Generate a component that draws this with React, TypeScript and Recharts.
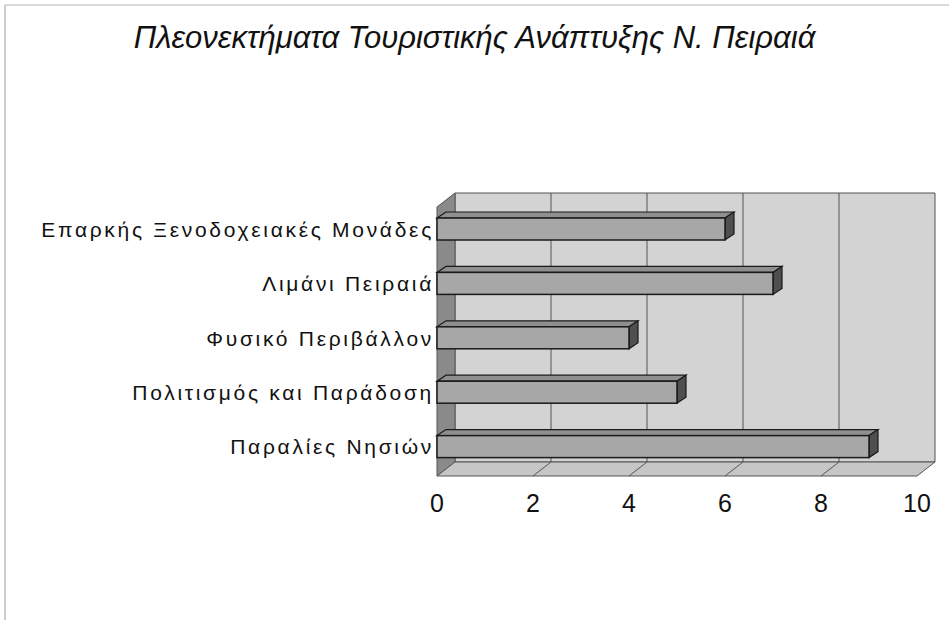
import React from 'react';
import { BarChart, Bar, XAxis, YAxis, ReferenceArea, ReferenceLine } from 'recharts';

const categories = [
  'Επαρκής Ξενοδοχειακές Μονάδες',
  'Λιμάνι Πειραιά',
  'Φυσικό Περιβάλλον',
  'Πολιτισμός και Παράδοση',
  'Παραλίες Νησιών',
];
const scores = [6, 7, 4, 5, 9];
const xTicks = [0, 2, 4, 6, 8, 10];
const innerGrid = [2, 4, 6, 8];

const data = categories.map((name, i) => ({ name, value: scores[i] }));

const FONT = '"Liberation Sans", Arial, sans-serif';

// wall depth (3D look of the plot box)
const WDX = 18;
const WDY = 14;
// bar depth
const BDX = 9;
const BDY = 6;

const Walls = (props: any) => {
  const { x, y, width, height } = props;
  const front = y + height + 2;
  const back = front - WDY;
  const top = y - 9;
  return (
    <g>
      <polygon
        points={`${x + WDX},${top} ${x + width + WDX},${top} ${x + width + WDX},${back} ${x + WDX},${back}`}
        fill="#d3d3d3"
        stroke="#555"
        strokeWidth={1}
      />
      <polygon
        points={`${x},${top + WDY} ${x + WDX},${top} ${x + WDX},${back} ${x},${front}`}
        fill="#8a8a8a"
        stroke="#555"
        strokeWidth={1}
      />
      <polygon
        points={`${x},${front} ${x + WDX},${back} ${x + width + WDX},${back} ${x + width},${front}`}
        fill="#c6c6c6"
        stroke="#555"
        strokeWidth={1}
      />
    </g>
  );
};

const GridLine3D = (props: any) => {
  const { x1, y1, y2 } = props;
  const yTop = Math.min(y1, y2);
  const yBot = Math.max(y1, y2);
  const front = yBot + 2;
  const back = front - WDY;
  return (
    <g>
      <line x1={x1 + WDX} y1={yTop - 9} x2={x1 + WDX} y2={back} stroke="#555" strokeWidth={1} />
      <line x1={x1} y1={front} x2={x1 + WDX} y2={back} stroke="#555" strokeWidth={1} />
    </g>
  );
};

const Bar3D = (props: any) => {
  const { x, y, width, height } = props;
  if (width <= 0) return null;
  return (
    <g>
      <polygon
        points={`${x},${y} ${x + BDX},${y - BDY} ${x + width + BDX},${y - BDY} ${x + width},${y}`}
        fill="#8f8f8f"
        stroke="#1a1a1a"
        strokeWidth={1.2}
      />
      <polygon
        points={`${x + width},${y} ${x + width + BDX},${y - BDY} ${x + width + BDX},${y + height - BDY} ${x + width},${y + height}`}
        fill="#4f4f4f"
        stroke="#1a1a1a"
        strokeWidth={1.2}
      />
      <rect x={x} y={y} width={width} height={height} fill="#a7a7a7" stroke="#1a1a1a" strokeWidth={1.5} />
    </g>
  );
};

const CategoryTick = (props: any) => {
  const { x, y, payload } = props;
  return (
    <text
      x={x}
      y={y}
      dy="0.36em"
      textAnchor="end"
      fill="#111"
      fontFamily={FONT}
      fontSize={21}
      letterSpacing={2.7}
    >
      {payload.value}
    </text>
  );
};

export default function App() {
  return (
    <div style={{ position: 'absolute', left: 0, top: 0, width: 949, height: 632, background: '#fff' }}>
      <svg width={949} height={632} style={{ position: 'absolute', left: 0, top: 0 }}>
        <line x1={5} y1={5} x2={5} y2={620} stroke="#9a9a9a" strokeWidth={1} />
        <line x1={5} y1={5} x2={949} y2={5} stroke="#b5b5b5" strokeWidth={1} />
      </svg>
      <div
        style={{
          position: 'absolute',
          left: 0,
          top: 20,
          width: 949,
          textAlign: 'center',
          fontFamily: FONT,
          fontStyle: 'italic',
          fontSize: 31,
          color: '#111',
        }}
      >
        Πλεονεκτήματα Τουριστικής Ανάπτυξης Ν. Πειραιά
      </div>
      <div style={{ position: 'absolute', left: 0, top: 0 }}>
        <BarChart
          width={949}
          height={632}
          data={data}
          layout="vertical"
          margin={{ top: 202, right: 32, bottom: 128, left: 17 }}
        >
          <ReferenceArea x1={0} x2={10} shape={<Walls />} ifOverflow="visible" zIndex={-20} />
          {innerGrid.map((v) => (
            <ReferenceLine key={v} x={v} shape={<GridLine3D />} ifOverflow="visible" zIndex={-10} />
          ))}
          <XAxis
            type="number"
            domain={[0, 10]}
            ticks={xTicks}
            axisLine={false}
            tickLine={false}
            tickSize={0}
            tickMargin={20}
            tick={{ fontSize: 25, fill: '#111', fontFamily: FONT }}
            interval={0}
          />
          <YAxis
            type="category"
            dataKey="name"
            width={420}
            axisLine={false}
            tickLine={false}
            tickSize={0}
            tickMargin={3}
            tick={<CategoryTick />}
            interval={0}
          />
          <Bar dataKey="value" barSize={22} shape={<Bar3D />} isAnimationActive={false} />
        </BarChart>
      </div>
    </div>
  );
}
